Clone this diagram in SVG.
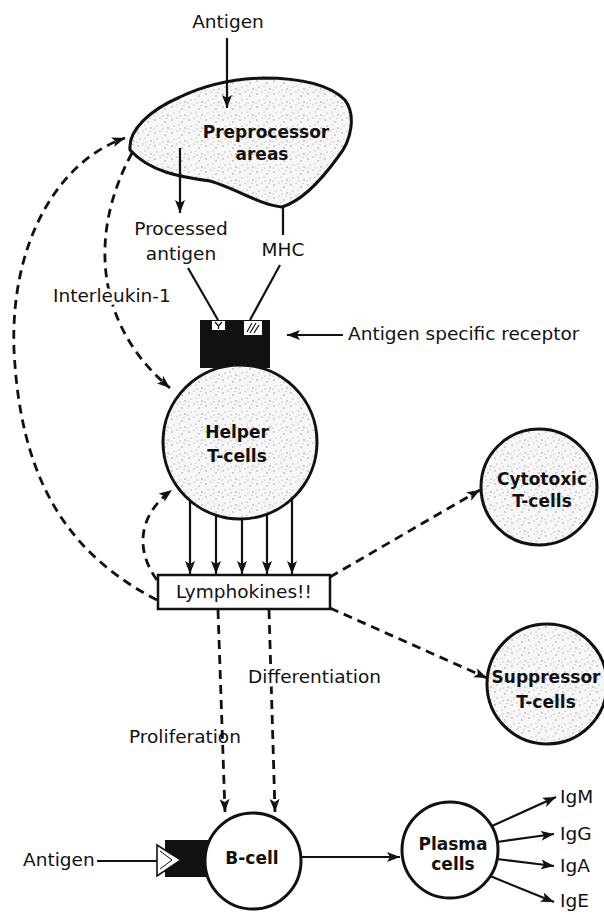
<svg xmlns="http://www.w3.org/2000/svg" width="604" height="915" viewBox="0 0 604 915">
<style>
.lbl{font-family:"DejaVu Sans","Liberation Sans",sans-serif;font-size:18.5px;fill:#111}
.nd{font-family:"DejaVu Sans","Liberation Sans",sans-serif;font-weight:bold;font-size:17px;fill:#111;text-anchor:middle}
.cell{stroke:#111;stroke-width:3}
.ln{stroke:#111;stroke-width:2.2;fill:none}
.dash{stroke:#111;stroke-width:2.8;fill:none;stroke-dasharray:9 6}
.halo{paint-order:stroke;stroke:#fff;stroke-width:7px;stroke-linejoin:round}
</style>
<defs>
<pattern id="stip" width="17" height="13" patternUnits="userSpaceOnUse">
<rect width="17" height="13" fill="#f7f7f7"/>
<g fill="#8a8a8a">
<circle cx="2" cy="3" r="0.7"/><circle cx="7" cy="1" r="0.6"/><circle cx="12" cy="5" r="0.7"/>
<circle cx="4" cy="9" r="0.6"/><circle cx="15" cy="11" r="0.7"/><circle cx="9" cy="8" r="0.5"/>
<circle cx="14" cy="1.5" r="0.5"/><circle cx="1" cy="12" r="0.5"/><circle cx="10" cy="12" r="0.6"/>
</g>
</pattern>
<marker id="ah" markerUnits="userSpaceOnUse" markerWidth="14" markerHeight="10" refX="13" refY="5" orient="auto">
<path d="M0,0 L13,5 L0,10 L3,5 Z" fill="#111" stroke="none"/>
</marker>
</defs>

<g id="connectors">
<line class="ln" x1="227" y1="38" x2="227" y2="108" marker-end="url(#ah)"/>
<line class="ln" x1="180" y1="148" x2="180" y2="213" marker-end="url(#ah)"/>
<line class="ln" x1="283" y1="205" x2="283" y2="235"/>
<line class="ln" x1="188" y1="268" x2="218" y2="320"/>
<line class="ln" x1="280" y1="265" x2="250" y2="320"/>
<line class="ln" x1="343" y1="335" x2="287" y2="335" marker-end="url(#ah)"/>
<path class="dash" d="M132,153 C85,240 100,330 170,388" marker-end="url(#ah)"/>
<path class="dash" d="M157,600 C60,550 20,470 14,350 C10,240 60,160 125,138" marker-end="url(#ah)"/>
<path class="dash" d="M157,580 C135,550 138,515 172,490" marker-end="url(#ah)"/>
<line class="ln" x1="190" y1="500" x2="190" y2="574" marker-end="url(#ah)"/>
<line class="ln" x1="216" y1="515" x2="216" y2="574" marker-end="url(#ah)"/>
<line class="ln" x1="242" y1="519" x2="242" y2="574" marker-end="url(#ah)"/>
<line class="ln" x1="267" y1="514" x2="267" y2="574" marker-end="url(#ah)"/>
<line class="ln" x1="292" y1="499" x2="292" y2="574" marker-end="url(#ah)"/>
<line class="dash" x1="330" y1="577" x2="480" y2="490" marker-end="url(#ah)"/>
<line class="dash" x1="330" y1="608" x2="487" y2="678" marker-end="url(#ah)"/>
<line class="dash" x1="218" y1="610" x2="225" y2="812" marker-end="url(#ah)"/>
<line class="dash" x1="269" y1="610" x2="275" y2="812" marker-end="url(#ah)"/>
<line class="ln" x1="97" y1="861" x2="158" y2="861"/>
<line class="ln" x1="302" y1="857" x2="400" y2="857" marker-end="url(#ah)"/>
<line class="ln" x1="492" y1="826" x2="556" y2="797" marker-end="url(#ah)"/>
<line class="ln" x1="497" y1="842" x2="554" y2="834" marker-end="url(#ah)"/>
<line class="ln" x1="497" y1="859" x2="554" y2="866" marker-end="url(#ah)"/>
<line class="ln" x1="490" y1="876" x2="554" y2="902" marker-end="url(#ah)"/>
</g>

<g id="preprocessor">
<path class="cell" fill="url(#stip)" d="M130,150 C128,130 150,110 180,97 C205,85 230,79 263,78 C300,78 330,85 345,100 C356,115 352,140 338,157 C325,175 305,200 282,207 C260,205 235,188 210,181 C180,177 150,172 130,150 Z"/>
<line class="ln" x1="227" y1="80" x2="227" y2="108" marker-end="url(#ah)"/>
<line class="ln" x1="180" y1="148" x2="180" y2="180"/>
<text class="nd" x="266" y="138" font-size="18">Preprocessor</text>
<text class="nd" x="262" y="160" font-size="18">areas</text>
</g>

<g id="helper">
<rect x="200" y="320" width="70" height="48" fill="#111"/>
<rect x="212" y="321" width="13" height="9" fill="#fff"/>
<path d="M215,322 L218.5,326 L222,322 M218.5,326 L218.5,329" stroke="#111" stroke-width="1.3" fill="none"/>
<rect x="244" y="321" width="18" height="14" fill="#fff"/>
<path d="M247,332 L252,323 M250,333 L256,323 M254,333 L259,325" stroke="#111" stroke-width="1.2"/>
<circle class="cell" cx="240" cy="442" r="77" fill="url(#stip)"/>
<text class="nd" x="237" y="438">Helper</text>
<text class="nd" x="237" y="462">T-cells</text>
</g>

<g id="lymphokines">
<rect x="158" y="575" width="172" height="34" fill="#fff" stroke="#111" stroke-width="2.5"/>
<text class="lbl" x="244" y="598" text-anchor="middle">Lymphokines!!</text>
</g>

<g id="cytotoxic">
<circle class="cell" cx="539" cy="487" r="58" fill="url(#stip)"/>
<text class="nd" x="542" y="485">Cytotoxic</text>
<text class="nd" x="542" y="507">T-cells</text>
</g>

<g id="suppressor">
<circle class="cell" cx="547" cy="684" r="60" fill="url(#stip)"/>
<text class="nd" x="546" y="683">Suppressor</text>
<text class="nd" x="546" y="708">T-cells</text>
</g>

<g id="bcell">
<rect x="165" y="840" width="45" height="37" fill="#111"/>
<polygon points="157,845 181,860 157,876" fill="#fff" stroke="#111" stroke-width="1.6"/>
<polyline points="160,851 172,860 160,869" fill="none" stroke="#111" stroke-width="1"/>
<circle class="cell" cx="253" cy="861" r="48" fill="#fff"/>
<text class="nd" x="252" y="864" font-size="18">B-cell</text>
</g>

<g id="plasma">
<circle class="cell" cx="450" cy="850" r="48" fill="#fff"/>
<text class="nd" x="453" y="850" font-size="17.5">Plasma</text>
<text class="nd" x="453" y="870" font-size="17.5">cells</text>
</g>

<g id="labels">
<text class="lbl" x="228" y="28" text-anchor="middle" font-size="19">Antigen</text>
<text class="lbl" x="181" y="235" text-anchor="middle" font-size="19">Processed</text>
<text class="lbl" x="181" y="260" text-anchor="middle" font-size="19">antigen</text>
<text class="lbl" x="283" y="256" text-anchor="middle" font-size="19">MHC</text>
<text class="lbl" x="348" y="340">Antigen specific receptor</text>
<text class="lbl halo" x="53" y="302">Interleukin-1</text>
<text class="lbl halo" x="248" y="683">Differentiation</text>
<text class="lbl" x="129" y="743">Proliferation</text>
<text class="lbl" x="23" y="866">Antigen</text>
<text class="lbl" x="560" y="803">IgM</text>
<text class="lbl" x="560" y="840">IgG</text>
<text class="lbl" x="560" y="872">IgA</text>
<text class="lbl" x="560" y="907">IgE</text>
</g>
</svg>
